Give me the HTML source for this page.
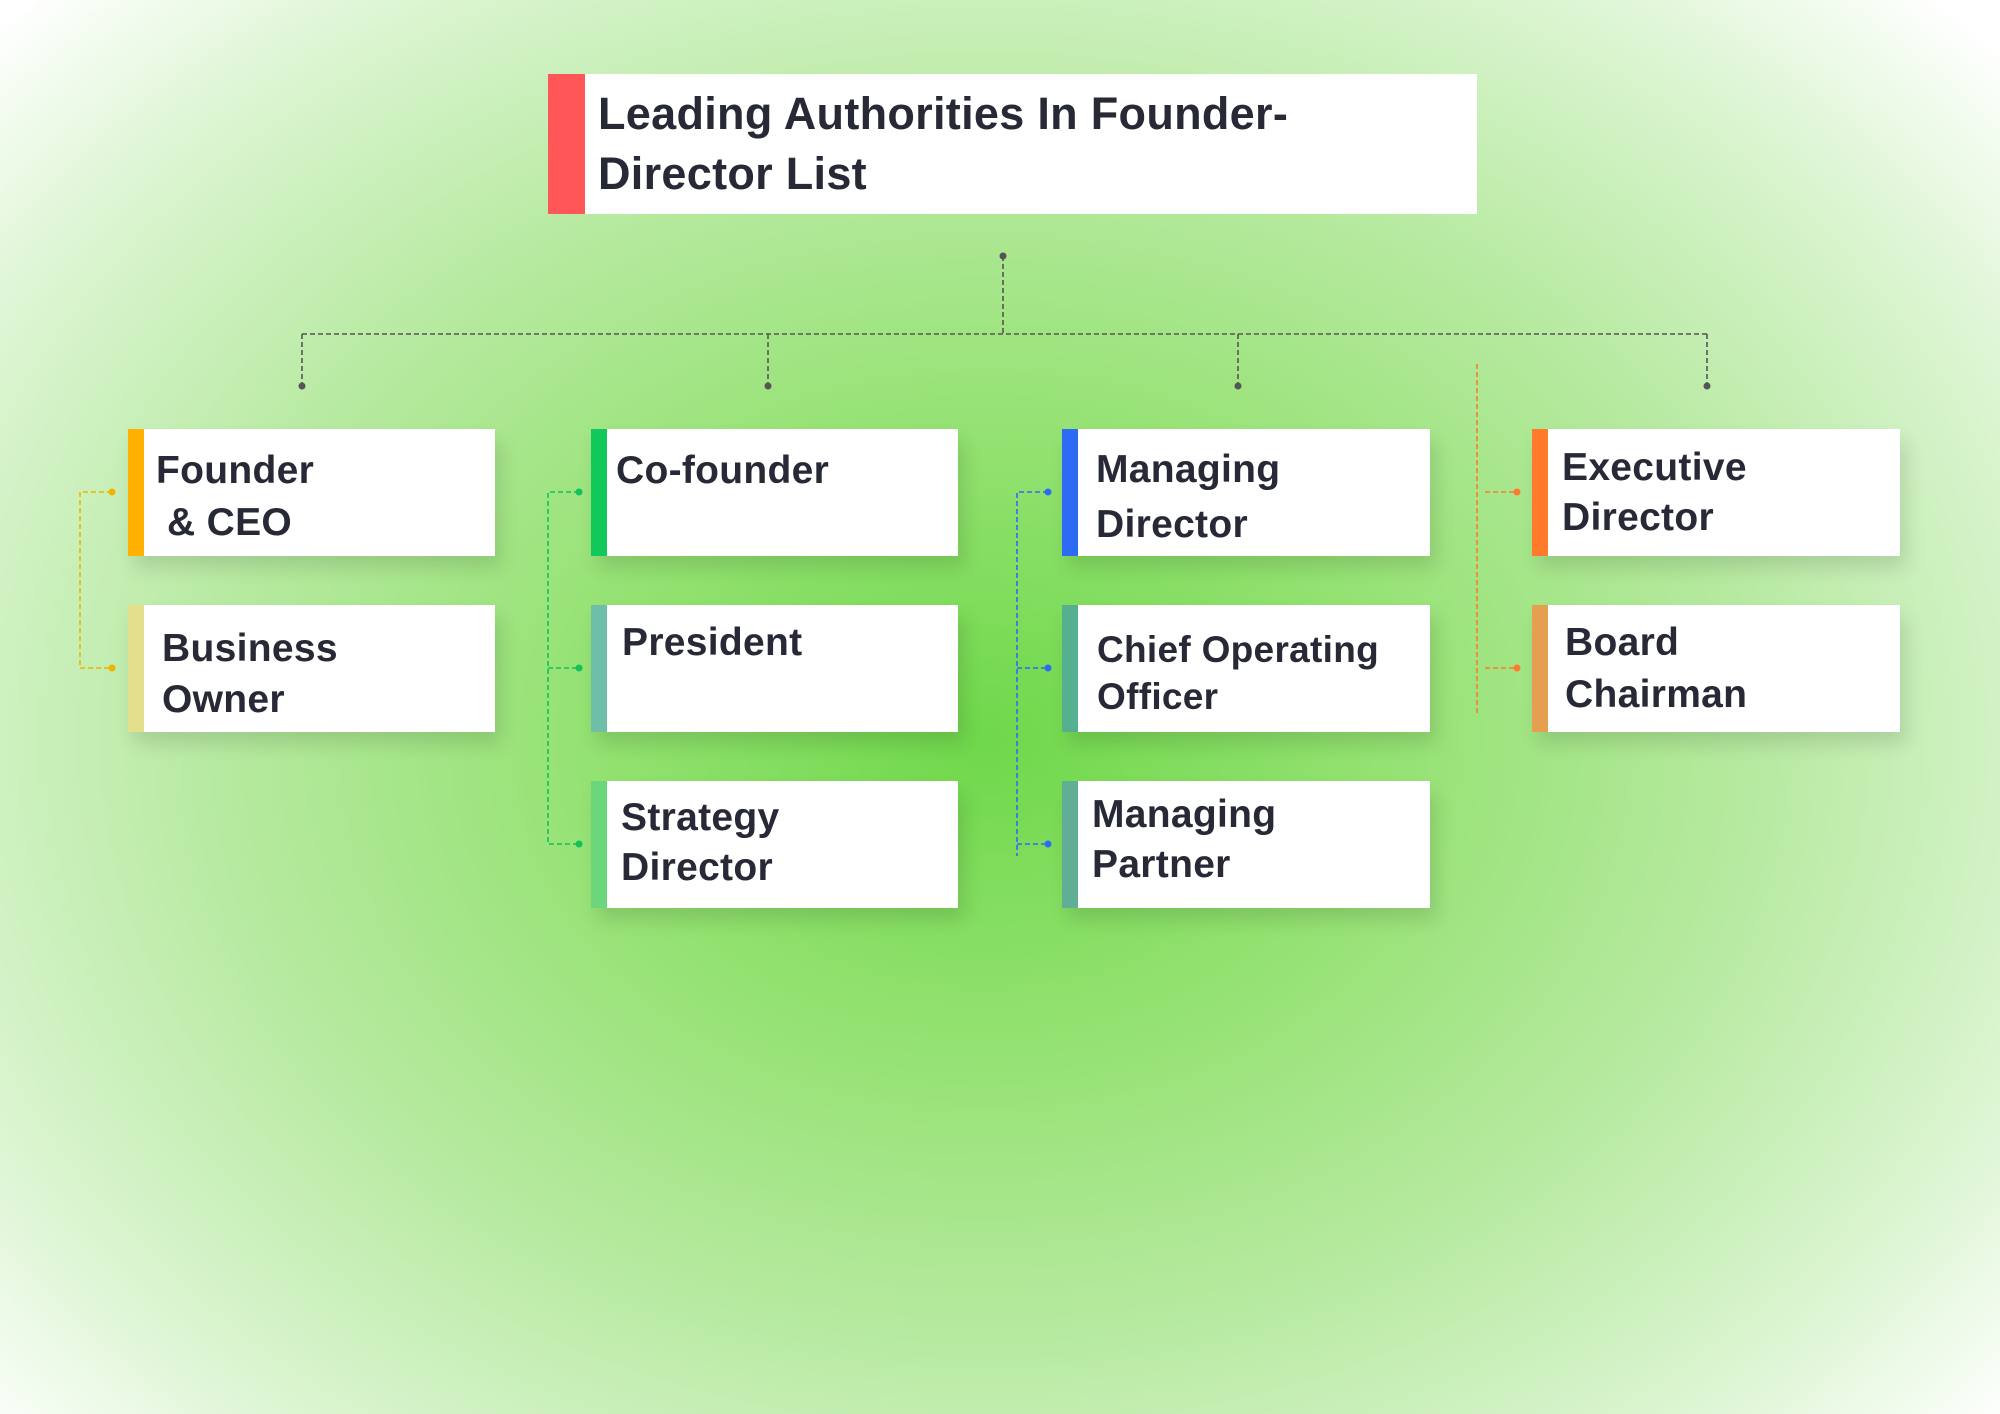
<!DOCTYPE html>
<html><head><meta charset="utf-8"><style>
html,body{margin:0;padding:0;}
body{width:2000px;height:1414px;position:relative;overflow:hidden;
background:radial-gradient(ellipse 1350px 1050px at 985px 740px,#6fd84a 0%,#95e273 30%,#b8eaa2 58%,#dcf5d2 82%,#ffffff 100%);
font-family:"Liberation Sans",sans-serif;color:#272a36;}
.card{position:absolute;background:#fff;box-shadow:6px 12px 18px rgba(0,0,0,0.12);}
.bar{position:absolute;left:0;top:0;bottom:0;width:16px;}
.t{position:absolute;font-weight:bold;font-size:39px;line-height:50px;white-space:pre;letter-spacing:0.3px;}
svg{position:absolute;left:0;top:0;}
</style></head><body>
<div class="card" style="left:548px;top:74px;width:929px;height:140px;box-shadow:none">
 <div class="bar" style="width:37px;background:#ff5757"></div>
</div>
<div class="t" style="left:598px;top:84px;font-size:45px;line-height:60px">Leading Authorities In Founder-
Director List</div>

<svg width="2000" height="1414">
<g stroke="#555" stroke-width="1.6" stroke-dasharray="5,3" fill="none">
<line x1="1003" y1="256" x2="1003" y2="334"/>
<line x1="302" y1="334" x2="1707" y2="334"/>
<line x1="302" y1="334" x2="302" y2="386"/>
<line x1="768" y1="334" x2="768" y2="386"/>
<line x1="1238" y1="334" x2="1238" y2="386"/>
<line x1="1707" y1="334" x2="1707" y2="386"/>
</g>
<g fill="#555"><circle cx="1003" cy="256" r="3.5"/><circle cx="302" cy="386" r="3.5"/><circle cx="768" cy="386" r="3.5"/><circle cx="1238" cy="386" r="3.5"/><circle cx="1707" cy="386" r="3.5"/></g>
<g stroke="#f0b400" stroke-width="1.6" stroke-dasharray="5,3" fill="none">
<polyline points="112,492 80,492 80,668 112,668"/></g>
<g fill="#f0b400"><circle cx="112" cy="492" r="3.5"/><circle cx="112" cy="668" r="3.5"/></g>
<g stroke="#12c25a" stroke-width="1.6" stroke-dasharray="5,3" fill="none">
<polyline points="579,492 548,492 548,844 579,844"/><line x1="548" y1="668" x2="579" y2="668"/></g>
<g fill="#12c25a"><circle cx="579" cy="492" r="3.5"/><circle cx="579" cy="668" r="3.5"/><circle cx="579" cy="844" r="3.5"/></g>
<g stroke="#2e6bf5" stroke-width="1.6" stroke-dasharray="5,3" fill="none">
<polyline points="1048,492 1017,492 1017,856"/><line x1="1017" y1="668" x2="1048" y2="668"/><line x1="1017" y1="844" x2="1048" y2="844"/></g>
<g fill="#2e6bf5"><circle cx="1048" cy="492" r="3.5"/><circle cx="1048" cy="668" r="3.5"/><circle cx="1048" cy="844" r="3.5"/></g>
<g stroke="#ff7a2a" stroke-width="1.6" stroke-dasharray="5,3" fill="none">
<line x1="1477" y1="364" x2="1477" y2="714"/><line x1="1485" y1="492" x2="1517" y2="492"/><line x1="1485" y1="668" x2="1517" y2="668"/></g>
<g fill="#ff7a2a"><circle cx="1517" cy="492" r="3.5"/><circle cx="1517" cy="668" r="3.5"/></g>
</svg>

<div class="card" style="left:128px;top:429px;width:367px;height:127px"><div class="bar" style="background:#ffb000"></div></div>
<div class="card" style="left:128px;top:605px;width:367px;height:127px"><div class="bar" style="background:#e3df8a"></div></div>
<div class="card" style="left:591px;top:429px;width:367px;height:127px"><div class="bar" style="background:#10c95a"></div></div>
<div class="card" style="left:591px;top:605px;width:367px;height:127px"><div class="bar" style="background:#6fbfa8"></div></div>
<div class="card" style="left:591px;top:781px;width:367px;height:127px"><div class="bar" style="background:#6bd67a"></div></div>
<div class="card" style="left:1062px;top:429px;width:368px;height:127px"><div class="bar" style="background:#2e6bf5"></div></div>
<div class="card" style="left:1062px;top:605px;width:368px;height:127px"><div class="bar" style="background:#55b08f"></div></div>
<div class="card" style="left:1062px;top:781px;width:368px;height:127px"><div class="bar" style="background:#5fae95"></div></div>
<div class="card" style="left:1532px;top:429px;width:368px;height:127px"><div class="bar" style="background:#ff7a2a"></div></div>
<div class="card" style="left:1532px;top:605px;width:368px;height:127px"><div class="bar" style="background:#e4a050"></div></div>

<div class="t" style="left:156px;top:446px">Founder</div>
<div class="t" style="left:167px;top:498px">&amp; CEO</div>
<div class="t" style="left:162px;top:623px;line-height:51px">Business
Owner</div>
<div class="t" style="left:616px;top:446px">Co-founder</div>
<div class="t" style="left:622px;top:618px">President</div>
<div class="t" style="left:621px;top:793px">Strategy
Director</div>
<div class="t" style="left:1096px;top:442px;line-height:55px">Managing
Director</div>
<div class="t" style="left:1097px;top:626px;font-size:37px;line-height:47px">Chief Operating
Officer</div>
<div class="t" style="left:1092px;top:790px">Managing
Partner</div>
<div class="t" style="left:1562px;top:443px">Executive
Director</div>
<div class="t" style="left:1565px;top:617px;line-height:52px">Board
Chairman</div>
</body></html>
